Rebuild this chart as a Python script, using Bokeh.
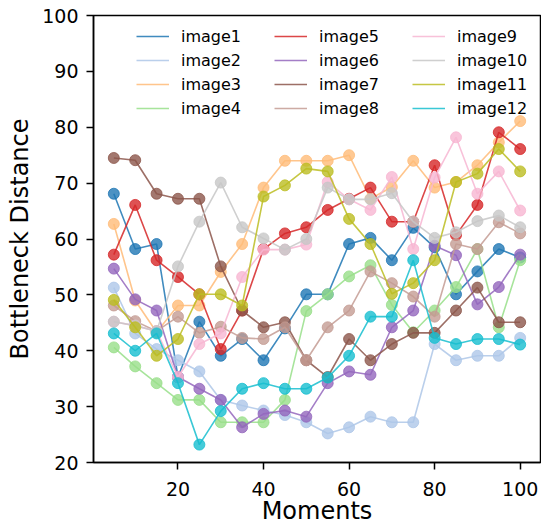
from bokeh.plotting import figure
from bokeh.models import Range1d, FixedTicker, Legend, LegendItem
from bokeh.embed import file_html
from bokeh.resources import INLINE

moments = [5, 10, 15, 20, 25, 30, 35, 40, 45, 50, 55, 60, 65, 70, 75, 80, 85, 90, 95, 100]

image1 = [68.1, 58.2, 59.1, 35.3, 45.2, 39.1, 42.1, 38.3, 44.0, 50.1, 50.1, 59.1, 60.2, 56.2, 62.0, 58.5, 50.1, 54.2, 58.2, 56.7]
image2 = [51.3, 43.1, 40.3, 38.3, 36.3, 31.2, 30.2, 29.3, 28.5, 27.2, 25.2, 26.3, 28.2, 27.2, 27.2, 41.2, 38.3, 39.1, 39.1, 42.3]
image3 = [62.7, 49.0, 43.3, 48.1, 48.1, 54.1, 59.1, 69.2, 74.0, 74.0, 74.0, 75.0, 67.2, 69.3, 74.0, 69.2, 70.2, 73.2, 77.3, 81.1]
image4 = [40.6, 37.2, 34.2, 31.2, 31.2, 27.2, 27.2, 27.2, 31.2, 47.1, 50.1, 53.3, 55.3, 48.2, 43.3, 47.2, 51.4, 58.2, 44.2, 56.2]
image5 = [57.2, 66.1, 56.2, 53.2, 50.1, 40.3, 47.2, 58.2, 61.0, 62.1, 65.2, 67.2, 69.2, 63.1, 63.1, 73.2, 60.7, 66.1, 79.1, 76.1]
image6 = [54.7, 49.2, 47.2, 35.3, 33.2, 31.2, 26.3, 28.7, 29.3, 28.2, 34.2, 36.3, 35.7, 44.2, 47.2, 58.8, 57.1, 48.3, 51.4, 57.2]
image7 = [74.5, 74.1, 68.1, 67.2, 67.2, 55.1, 47.2, 44.2, 45.1, 38.3, 35.3, 42.1, 38.3, 41.2, 43.2, 43.2, 47.2, 51.3, 45.1, 45.1]
image8 = [48.1, 45.3, 43.5, 46.1, 43.2, 44.3, 42.3, 42.1, 44.2, 38.3, 44.2, 47.2, 54.2, 52.1, 49.7, 46.1, 59.1, 58.2, 63.0, 61.0]
image9 = [45.2, 44.5, 43.5, 35.3, 41.2, 43.1, 53.2, 58.1, 58.1, 59.0, 70.2, 67.1, 65.2, 71.1, 58.2, 71.0, 78.2, 68.1, 72.1, 65.1]
image10 = [45.2, 44.5, 43.5, 55.1, 63.1, 70.1, 62.1, 60.1, 58.1, 60.0, 69.2, 67.1, 67.1, 68.2, 63.1, 60.2, 61.2, 63.2, 64.2, 62.1]
image11 = [49.1, 44.2, 39.1, 42.1, 50.1, 50.1, 48.1, 67.6, 69.6, 72.6, 72.1, 63.6, 59.1, 50.2, 52.1, 56.2, 70.2, 71.7, 76.1, 72.1]
image12 = [43.1, 40.0, 43.1, 34.2, 23.2, 29.2, 33.2, 34.2, 33.2, 33.2, 35.2, 39.1, 46.1, 46.1, 56.2, 42.3, 41.2, 42.1, 42.1, 41.1]

names = ["image1", "image2", "image3", "image4", "image5", "image6",
         "image7", "image8", "image9", "image10", "image11", "image12"]
series = [image1, image2, image3, image4, image5, image6,
          image7, image8, image9, image10, image11, image12]
colors = ["#1f77b4", "#aec7e8", "#ffbb78", "#98df8a", "#d62728", "#9467bd",
          "#8c564b", "#c49c94", "#f7b6d2", "#c7c7c7", "#bcbd22", "#17becf"]

x_ticks = [20, 40, 60, 80, 100]
y_ticks = [20, 30, 40, 50, 60, 70, 80, 90, 100]

FONT = "DejaVu Sans"

p = figure(width=541, height=527, output_backend="svg", toolbar_location=None,
           x_range=Range1d(0.25, 104.75), y_range=Range1d(20, 100),
           min_border_left=93, min_border_right=1, min_border_top=15, min_border_bottom=65)
p.background_fill_color = "white"
p.border_fill_color = "white"
p.grid.visible = False
p.outline_line_color = "black"
p.outline_line_width = 1.5

for ax in (p.xaxis, p.yaxis):
    ax.axis_line_color = "black"
    ax.axis_line_width = 1.5
    ax.major_tick_line_color = "black"
    ax.major_tick_line_width = 1.5
    ax.major_tick_in = 0
    ax.major_tick_out = 7
    ax.minor_tick_line_color = None
    ax.major_label_text_font = FONT
    ax.major_label_text_font_size = "19px"
    ax.major_label_text_color = "black"
    ax.axis_label_text_font = FONT
    ax.axis_label_text_font_size = "24px"
    ax.axis_label_text_font_style = "normal"
    ax.axis_label_text_color = "black"

p.xaxis.major_label_standoff = 12
p.xaxis.axis_label_standoff = -2
p.yaxis.major_label_standoff = 8
p.yaxis.axis_label_standoff = 5

p.xaxis.ticker = FixedTicker(ticks=x_ticks)
p.yaxis.ticker = FixedTicker(ticks=y_ticks)
p.xaxis.axis_label = "Moments"
p.yaxis.axis_label = "Bottleneck Distance"

line_renderers = []
for name, ys, c in zip(names, series, colors):
    lr = p.line(moments, ys, line_color=c, line_width=1.6, line_alpha=0.85)
    p.scatter(moments, ys, size=11, fill_color=c, line_color=c, fill_alpha=0.8, line_alpha=0.8)
    line_renderers.append(lr)

col_x = [43, 181, 319]
for ci in range(3):
    items = [LegendItem(label=names[ci * 4 + k], renderers=[line_renderers[ci * 4 + k]]) for k in range(4)]
    leg = Legend(items=items, location=(col_x[ci], 344), orientation="vertical")
    leg.label_text_font = FONT
    leg.label_text_font_size = "16px"
    leg.label_text_color = "black"
    leg.glyph_width = 33
    leg.glyph_height = 20
    leg.label_height = 20
    leg.spacing = 4
    leg.padding = 0
    leg.margin = 0
    leg.label_standoff = 12
    leg.border_line_alpha = 0
    leg.background_fill_alpha = 0
    p.add_layout(leg)

open("out.html", "w").write(file_html(p, INLINE))
